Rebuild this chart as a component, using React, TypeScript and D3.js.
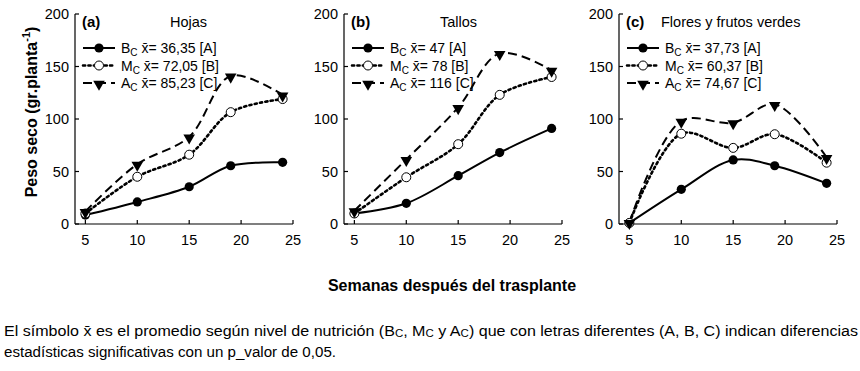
import React, { useRef, useEffect } from 'react';
import * as d3 from 'd3';

// semanas de muestreo (eje X)
const weeks = [5, 10, 15, 19, 24];

// Hojas
const hojasB = [8.5, 21, 35.5, 55.5, 58.7];
const hojasM = [10, 45, 66, 106.5, 119];
const hojasA = [12, 57, 83, 141, 123];

// Tallos
const tallosB = [10, 19.7, 46, 68, 91];
const tallosM = [10, 44.5, 76, 123, 140];
const tallosA = [12.7, 61.5, 111, 162.5, 146.5];

// Flores y frutos verdes
const floresB = [1, 33, 61, 55.5, 38.7];
const floresM = [1, 86, 72.5, 85.5, 58.4];
const floresA = [1.5, 98, 96.5, 114, 63.5];

const panelLetters = ['(a)', '(b)', '(c)'];
const panelTitles = ['Hojas', 'Tallos', 'Flores y frutos verdes'];
const seriesNames = ['B', 'M', 'A'];
const meanValues = [
  ['36,35', '72,05', '85,23'],
  ['47', '78', '116'],
  ['37,73', '60,37', '74,67'],
];
const groupLetters = ['[A]', '[B]', '[C]'];
const yTicks = [0, 50, 100, 150, 200];
const xTicks = [5, 10, 15, 20, 25];

const panelData = [
  [hojasB, hojasM, hojasA],
  [tallosB, tallosM, tallosA],
  [floresB, floresM, floresA],
];

const FONT = "'Liberation Sans', Arial, sans-serif";

const App = () => {
  const svgRef = useRef(null);

  useEffect(() => {
    document.body.style.margin = '0';
    const svg = d3.select(svgRef.current).attr('width', 860).attr('height', 371);
    svg.selectAll('*').remove();
    svg.append('rect').attr('width', 860).attr('height', 371).attr('fill', '#fff');

    const axisLeft = [75, 344, 619];
    const titleX = [95, 96, 42]; // desplazamiento del título desde el eje
    const plotW = 218;

    const y = d3.scaleLinear().domain([0, 200]).range([224, 14]);

    const styles = [
      { dash: null, width: 2 },
      { dash: '2.2,3.2', width: 2.6 },
      { dash: '9,5', width: 2 },
    ];

    const drawMarker = (g, i, cx, cy) => {
      if (i === 0) {
        g.append('circle').attr('cx', cx).attr('cy', cy).attr('r', 4.6).attr('fill', '#000');
      } else if (i === 1) {
        g.append('circle').attr('cx', cx).attr('cy', cy).attr('r', 4.5)
          .attr('fill', '#fff').attr('stroke', '#000').attr('stroke-width', 1);
      } else {
        g.append('path')
          .attr('d', d3.symbol(d3.symbolTriangle, 58)())
          .attr('transform', `translate(${cx},${cy + 1}) rotate(180)`)
          .attr('fill', '#000');
      }
    };

    panelData.forEach((series, p) => {
      const x0 = axisLeft[p];
      const x = d3.scaleLinear().domain([4, 25]).range([x0, x0 + plotW]);
      const g = svg.append('g').attr('font-family', FONT);

      // ejes
      g.append('line').attr('x1', x0).attr('x2', x0).attr('y1', y(0)).attr('y2', y(200))
        .attr('stroke', '#000').attr('stroke-width', 1.2);
      g.append('line').attr('x1', x0).attr('x2', x(25)).attr('y1', y(0)).attr('y2', y(0))
        .attr('stroke', '#000').attr('stroke-width', 1.2);

      yTicks.forEach(t => {
        g.append('line').attr('x1', x0).attr('x2', x0 + 4).attr('y1', y(t)).attr('y2', y(t))
          .attr('stroke', '#000').attr('stroke-width', 1.2);
        g.append('text').attr('x', x0 - 6).attr('y', y(t)).attr('dy', '0.35em')
          .attr('text-anchor', 'end').attr('font-size', 14.5).text(t);
      });
      xTicks.forEach(t => {
        g.append('line').attr('x1', x(t)).attr('x2', x(t)).attr('y1', y(0)).attr('y2', y(0) - 4)
          .attr('stroke', '#000').attr('stroke-width', 1.2);
        g.append('text').attr('x', x(t)).attr('y', 245)
          .attr('text-anchor', 'middle').attr('font-size', 14.5).text(t);
      });

      // títulos
      g.append('text').attr('x', x0 + 7).attr('y', 27).attr('font-size', 15)
        .attr('font-weight', 'bold').text(panelLetters[p]);
      g.append('text').attr('x', x0 + titleX[p]).attr('y', 27).attr('font-size', 14.5)
        .text(panelTitles[p]);

      // curvas
      const line = d3.line()
        .x((d, i) => x(weeks[i]))
        .y(d => y(d))
        .curve(d3.curveCatmullRom.alpha(0.5));

      series.forEach((vals, i) => {
        const path = g.append('path').attr('d', line(vals)).attr('fill', 'none')
          .attr('stroke', '#000').attr('stroke-width', styles[i].width);
        if (styles[i].dash) path.attr('stroke-dasharray', styles[i].dash);
        if (i === 1) path.attr('stroke-linecap', 'round');
      });
      series.forEach((vals, i) => {
        vals.forEach((v, k) => drawMarker(g, i, x(weeks[k]), y(v)));
      });

      // leyenda
      seriesNames.forEach((name, i) => {
        const ly = 48 + i * 17.5;
        const lx1 = x0 + 8;
        const lx2 = x0 + 40;
        const l = g.append('line').attr('x1', lx1).attr('x2', lx2).attr('y1', ly).attr('y2', ly)
          .attr('stroke', '#000').attr('stroke-width', styles[i].width);
        if (styles[i].dash) l.attr('stroke-dasharray', styles[i].dash);
        if (i === 1) l.attr('stroke-linecap', 'round');
        drawMarker(g, i, (lx1 + lx2) / 2, ly);
        const t = g.append('text').attr('x', x0 + 46).attr('y', ly + 5).attr('font-size', 14);
        t.append('tspan').text(name);
        t.append('tspan').attr('font-size', 10).attr('dy', 3).text('C');
        t.append('tspan').attr('dy', -3).text(` x\u0304= ${meanValues[p][i]} ${groupLetters[i]}`);
      });
    });

    // título eje Y
    const yt = svg.append('text')
      .attr('transform', 'translate(37,112) rotate(-90)')
      .attr('text-anchor', 'middle').attr('font-family', FONT)
      .attr('font-size', 16).attr('font-weight', 'bold');
    yt.append('tspan').text('Peso seco (gr.planta');
    yt.append('tspan').attr('font-size', 11).attr('dy', -7).text('-1');
    yt.append('tspan').attr('dy', 7).text(')');

    // título eje X
    svg.append('text').attr('x', 452).attr('y', 291).attr('text-anchor', 'middle')
      .attr('font-family', FONT).attr('font-size', 16).attr('font-weight', 'bold')
      .text('Semanas después del trasplante');

    // nota
    const n1 = svg.append('text').attr('x', 4).attr('y', 336).attr('font-family', FONT)
      .attr('font-size', 14).attr('textLength', 854).attr('lengthAdjust', 'spacingAndGlyphs');
    n1.append('tspan').text('El símbolo x\u0304 es el promedio según nivel de nutrición (B');
    n1.append('tspan').attr('font-size', 10).attr('dy', 1).text('C');
    n1.append('tspan').attr('dy', -1).text(', M');
    n1.append('tspan').attr('font-size', 10).attr('dy', 1).text('C');
    n1.append('tspan').attr('dy', -1).text(' y A');
    n1.append('tspan').attr('font-size', 10).attr('dy', 1).text('C');
    n1.append('tspan').attr('dy', -1).text(') que con letras diferentes (A, B, C) indican diferencias');

    svg.append('text').attr('x', 4).attr('y', 357).attr('font-family', FONT)
      .attr('font-size', 14).attr('textLength', 332).attr('lengthAdjust', 'spacingAndGlyphs')
      .text('estadísticas significativas con un p_valor de 0,05.');
  }, []);

  return <svg ref={svgRef}></svg>;
};

export default App;
